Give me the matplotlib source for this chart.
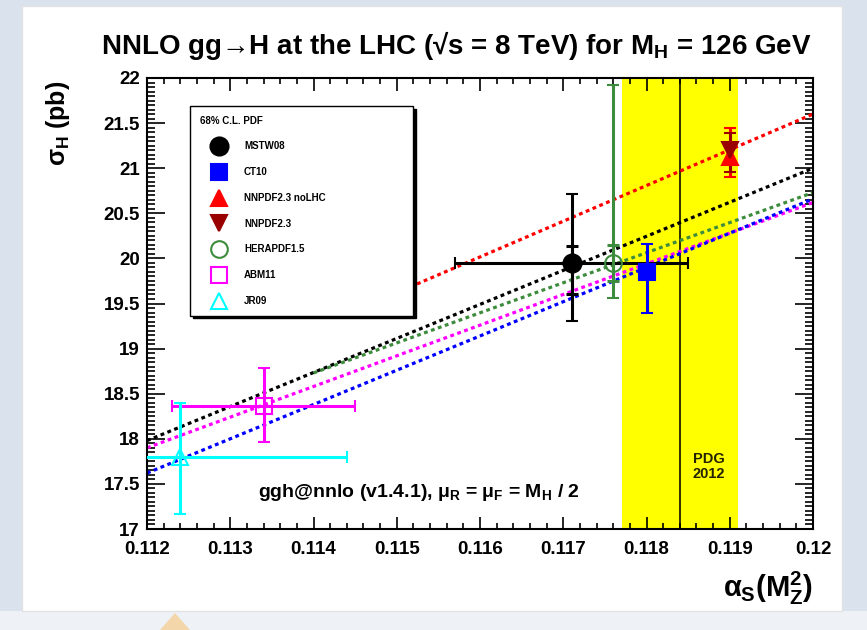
import matplotlib
matplotlib.use("Agg")
import matplotlib.pyplot as plt
from matplotlib import font_manager
from matplotlib.patches import Rectangle, Polygon
from matplotlib.lines import Line2D
from matplotlib.ticker import MultipleLocator, FuncFormatter

# ---- data ----
pdf_names = ["MSTW08", "CT10", "NNPDF2.3 noLHC", "NNPDF2.3", "HERAPDF1.5", "ABM11", "JR09"]
alpha_val = [0.1171, 0.1180, 0.1190, 0.1190, 0.1176, 0.1134, 0.1124]
alpha_err = [0.0014, 0.0, 0.0, 0.0, 0.0, 0.0011, 0.0020]
sigma_val = [19.95, 19.85, 21.12, 21.20, 19.95, 18.36, 17.80]
sigma_up = [0.76, 0.31, 0.33, 0.19, 1.97, 0.42, 0.60]
sigma_dn = [0.64, 0.46, 0.22, 0.24, 0.39, 0.40, 0.63]
# inner (PDF only) error bars where shown
inner_idx = [0, 4]
inner_up = [0.19, 0.20]
inner_dn = [0.35, 0.20]

# sigma(alpha_s) scans, dashed lines: start/end alpha and sigma
scan_names = ["NNPDF2.3", "MSTW08", "HERAPDF1.5", "ABM11", "CT10"]
scan_alpha = [[0.115, 0.120], [0.112, 0.120], [0.114, 0.120], [0.112, 0.120], [0.112, 0.120]]
scan_sigma = [[19.62, 21.60], [17.98, 21.00], [18.73, 20.73], [17.90, 20.62], [17.62, 20.66]]

pdg_alpha = 0.1184
pdg_err = 0.0007

# ---- styles ----
colors = ["black", "blue", "red", "#990000", "#3d8c3d", "#ff00ff", "#00ffff"]
markers = ["o", "s", "^", "v", "o", "s", "^"]
filled = [True, True, True, True, False, False, False]
msizes = [13, 11, 11, 11, 12, 12, 12]
scan_colors = ["red", "black", "#3d8c3d", "#ff00ff", "blue"]

names = {f.name for f in font_manager.fontManager.ttflist}
fam = "Liberation Sans Narrow" if "Liberation Sans Narrow" in names else "Liberation Sans"
plt.rcParams["font.family"] = [fam, "DejaVu Sans"]
plt.rcParams["font.weight"] = "bold"
plt.rcParams["axes.labelweight"] = "bold"
plt.rcParams["mathtext.fontset"] = "custom"
plt.rcParams["mathtext.rm"] = fam + ":bold"
plt.rcParams["mathtext.it"] = fam + ":bold"
plt.rcParams["mathtext.bf"] = fam + ":bold"

W, H = 867, 630
fig = plt.figure(figsize=(W / 100, H / 100), dpi=100, facecolor="#d9e2ed")
fig.add_artist(Rectangle((0, 0), 1, 19 / H, transform=fig.transFigure,
                         facecolor="#eef2f7", edgecolor="none", zorder=0))
fig.add_artist(Rectangle((22 / W, 1 - 611 / H), 820 / W, 605 / H, transform=fig.transFigure,
                         facecolor="white", edgecolor="#e2e2e2", lw=1, zorder=0))
fig.add_artist(Polygon([[175 / W, 1 - 613 / H], [160 / W, 0], [190 / W, 0]],
                       closed=True, transform=fig.transFigure,
                       facecolor="#f4d6ab", edgecolor="none", zorder=0))

ax = fig.add_axes([147 / W, 1 - 529 / H, 666 / W, 451 / H])
ax.set_facecolor("white")

ax.axvspan(pdg_alpha - pdg_err, pdg_alpha + pdg_err, color="#ffff00", zorder=0.5, lw=0)
ax.axvline(pdg_alpha, color="#303000", lw=1.4, zorder=1)
ax.text(pdg_alpha + pdg_err / 2, 17.69, "PDG\n2012", ha="center", va="center",
        fontsize=10.5, linespacing=1.05, color="#222200")

for a, s, c in zip(scan_alpha, scan_sigma, scan_colors):
    ax.plot(a, s, color=c, lw=2.3, ls=(0, (1.2, 1.1)), zorder=2)

for i in range(len(pdf_names)):
    c = colors[i]
    ax.errorbar(alpha_val[i], sigma_val[i],
                xerr=alpha_err[i] if alpha_err[i] > 0 else None,
                yerr=[[sigma_dn[i]], [sigma_up[i]]],
                fmt=markers[i], color=c, ms=msizes[i],
                mfc=c if filled[i] else "none", mec=c, mew=1.5,
                elinewidth=2.2, capsize=4.5, capthick=2.2, zorder=3)

for k, i in enumerate(inner_idx):
    ax.errorbar(alpha_val[i], sigma_val[i], yerr=[[inner_dn[k]], [inner_up[k]]],
                fmt="none", ecolor=colors[i], elinewidth=2.2, capsize=4.5,
                capthick=2.2, zorder=3)

ax.set_xlim(0.112, 0.12)
ax.set_ylim(17, 22)
ax.xaxis.set_major_locator(MultipleLocator(0.001))
ax.xaxis.set_minor_locator(MultipleLocator(0.0002))
ax.yaxis.set_major_locator(MultipleLocator(0.5))
ax.yaxis.set_minor_locator(MultipleLocator(0.05))
fmt = FuncFormatter(lambda v, p: "%g" % round(v, 4))
ax.xaxis.set_major_formatter(fmt)
ax.yaxis.set_major_formatter(fmt)
ax.tick_params(which="both", direction="in", top=True, right=True, labelsize=13.5, width=1.2)
ax.tick_params(axis="x", which="major", length=9, pad=9)
ax.tick_params(axis="x", which="minor", length=4.5)
ax.tick_params(axis="y", which="major", length=13, pad=5)
ax.tick_params(axis="y", which="minor", length=6)
for sp in ax.spines.values():
    sp.set_linewidth(1.5)

ax.set_xlabel(r"$\alpha_S$(M$_Z^2$)", fontsize=21, loc="right")
ax.xaxis.set_label_coords(1.0, -0.09)
ax.set_ylabel(r"$\sigma_H$ (pb)", fontsize=18, loc="top")
ax.yaxis.set_label_coords(-0.112, 0.995)

fig.text(456 / W, 1 - 45 / H, r"NNLO gg→H at the LHC (√s = 8 TeV) for M$_H$ = 126 GeV",
         ha="center", va="center", fontsize=20)
ax.text(0.167, 0.082, r"ggh@nnlo (v1.4.1), $\mu_R$ = $\mu_F$ = M$_H$ / 2",
        transform=ax.transAxes, ha="left", va="center", fontsize=14)

handles = [Line2D([], [], ls="none", marker=markers[i], color=colors[i], ms=msizes[i],
                  mfc=colors[i] if filled[i] else "none", mec=colors[i], mew=1.5)
           for i in range(len(pdf_names))]
leg = ax.legend(handles, pdf_names, title="68% C.L. PDF", loc="upper left",
                bbox_to_anchor=(0.0646, 0.0, 0.335, 0.938), mode="expand",
                borderaxespad=0, fontsize=7, title_fontsize=7, alignment="left",
                handlelength=4.0, handletextpad=0.55, borderpad=1.0,
                labelspacing=1.62, fancybox=False, framealpha=1,
                shadow={"color": "black", "alpha": 1})
leg.get_frame().set_edgecolor("black")
leg.get_frame().set_linewidth(1.0)
leg.set_zorder(5)

fig.savefig("out.png", dpi=100, facecolor=fig.get_facecolor())
